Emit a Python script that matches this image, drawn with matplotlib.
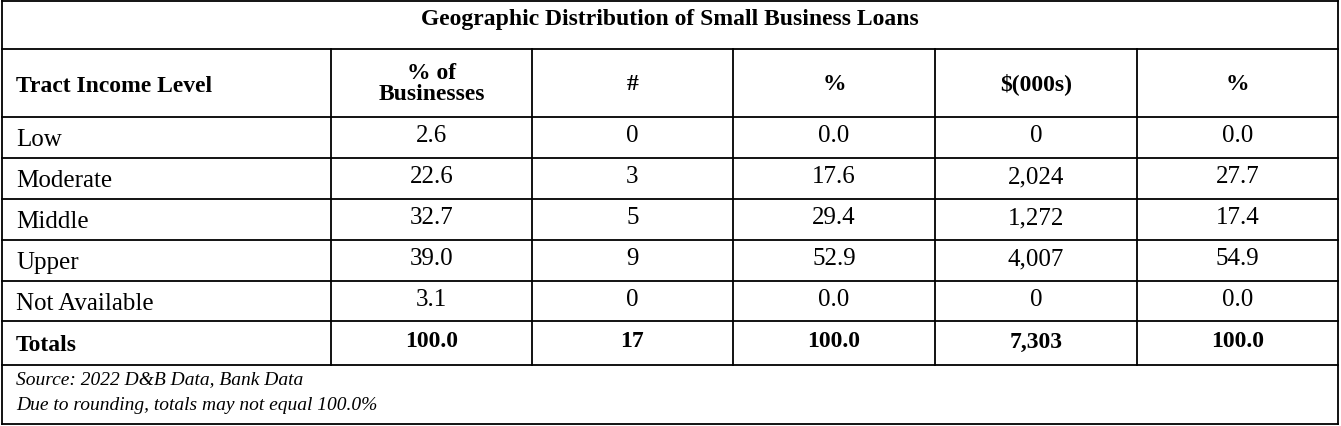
import matplotlib.pyplot as plt

title = "Geographic Distribution of Small Business Loans"
headers = ["Tract Income Level", "% of\nBusinesses", "#", "%", "$(000s)", "%"]
levels = ["Low", "Moderate", "Middle", "Upper", "Not Available"]
pct_businesses = ["2.6", "22.6", "32.7", "39.0", "3.1"]
loan_count = ["0", "3", "5", "9", "0"]
loan_count_pct = ["0.0", "17.6", "29.4", "52.9", "0.0"]
loan_amount = ["0", "2,024", "1,272", "4,007", "0"]
loan_amount_pct = ["0.0", "27.7", "17.4", "54.9", "0.0"]
totals = ["Totals", "100.0", "17", "100.0", "7,303", "100.0"]
notes = ["Source: 2022 D&B Data, Bank Data", "Due to rounding, totals may not equal 100.0%"]

ff = 'Liberation Serif'
plt.rcParams['font.family'] = [ff, 'DejaVu Serif']
fig = plt.figure(figsize=(13.41, 4.27), dpi=100)
ax = fig.add_axes([0, 0, 1, 1])
ax.set_xlim(0, 1341)
ax.set_ylim(427, 0)
ax.axis('off')

cols = [2, 331, 532, 733, 935, 1137, 1338]
rows = [2, 50, 118, 159, 200, 241, 282, 322, 366, 425]
lw = 1.3
k = 'black'
for y in rows:
    ax.plot([cols[0], cols[-1]], [y, y], color=k, lw=lw)
ax.plot([cols[0], cols[0]], [rows[0], rows[-1]], color=k, lw=lw)
ax.plot([cols[-1], cols[-1]], [rows[0], rows[-1]], color=k, lw=lw)
for x in cols[1:-1]:
    ax.plot([x, x], [rows[1], rows[-2]], color=k, lw=lw)

ax.text(670, 20, title, ha='center', va='center', fontsize=17, fontweight='bold', family=ff)

def mid(i):
    return (cols[i] + cols[i + 1]) / 2

for i, h in enumerate(headers):
    y = (rows[1] + rows[2]) / 2
    if i == 0:
        ax.text(16, y + 3, h, ha='left', va='center', fontsize=17, fontweight='bold', family=ff)
    else:
        ax.text(mid(i), y, h, ha='center', va='center', fontsize=17, fontweight='bold',
                linespacing=1.05, family=ff)

table = list(zip(levels, pct_businesses, loan_count, loan_count_pct, loan_amount, loan_amount_pct))
for r, vals in enumerate(table):
    y0 = rows[2 + r]
    for i, v in enumerate(vals):
        if i == 0:
            ax.text(16, y0 + 22, v, ha='left', va='center', fontsize=18, family=ff)
        else:
            ax.text(mid(i), y0 + 18, v, ha='center', va='center', fontsize=18, family=ff)

y = rows[7] + 24
for i, v in enumerate(totals):
    if i == 0:
        ax.text(16, y, v, ha='left', va='center', fontsize=17, fontweight='bold', family=ff)
    else:
        ax.text(mid(i), y - 4, v, ha='center', va='center', fontsize=17, fontweight='bold', family=ff)

ax.text(16, 380, notes[0], ha='left', va='center', fontsize=14, style='italic', family=ff)
ax.text(16, 406, notes[1], ha='left', va='center', fontsize=14, style='italic', family=ff)

fig.savefig('out.png', dpi=100)
